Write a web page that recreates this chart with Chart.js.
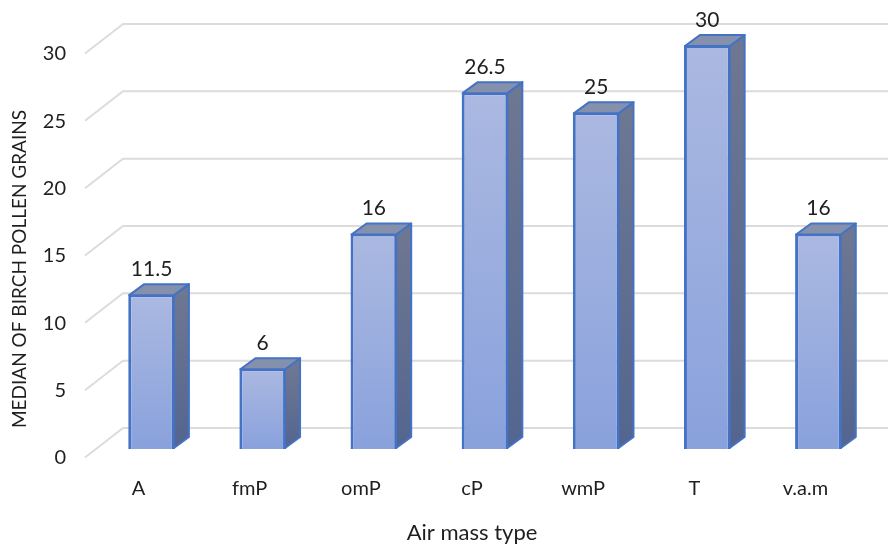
<!DOCTYPE html>
<html>
<head>
<meta charset="utf-8">
<style>
  html, body { margin: 0; padding: 0; background: #fff; }
  canvas { display: block; }
</style>
<script src="https://cdn.jsdelivr.net/npm/chart.js@4"></script>
</head>
<body>
<canvas id="chart" width="888" height="544"></canvas>
<script>
const categories = ['A', 'fmP', 'omP', 'cP', 'wmP', 'T', 'v.a.m'];
const medians = [11.5, 6, 16, 26.5, 25, 30, 16];
const yTicks = [0, 5, 10, 15, 20, 25, 30];
const xTitle = 'Air mass type';
const yTitle = 'MEDIAN OF BIRCH POLLEN GRAINS';

const FONT = 'Lato, "Open Sans", sans-serif';
const TEXT = '#1f1f1f';
const BLUE = '#4472c4';
const GRID = '#dcdcdc';

// fake 3D: offsets of the bar depth and the back wall, in pixels
const depthX = 15, depthY = 11;
const wallFrontX = 85, wallBackX = 123, wallRight = 888;
const wallFrontDy = 8.5, wallBackDy = -21;

function verticalGradient(ctx, top, bottom, from, to) {
    const g = ctx.createLinearGradient(0, top, 0, bottom);
    g.addColorStop(0, from);
    g.addColorStop(1, to);
    return g;
}

function face(ctx, points, fill) {
    ctx.beginPath();
    points.forEach((p, i) => i ? ctx.lineTo(p[0], p[1]) : ctx.moveTo(p[0], p[1]));
    ctx.closePath();
    ctx.fillStyle = fill;
    ctx.fill();
    ctx.strokeStyle = BLUE;
    ctx.lineWidth = 2;
    ctx.lineJoin = 'round';
    ctx.stroke();
}

const wallPlugin = {
    id: 'wall',
    beforeDatasetsDraw(chart) {
        const ctx = chart.ctx;
        const y = chart.scales.y;
        ctx.save();
        ctx.strokeStyle = GRID;
        ctx.lineWidth = 2;
        yTicks.forEach(t => {
            const py = y.getPixelForValue(t);
            ctx.beginPath();
            ctx.moveTo(wallFrontX, py + wallFrontDy);
            ctx.lineTo(wallBackX, py + wallBackDy);
            ctx.lineTo(wallRight, py + wallBackDy);
            ctx.stroke();
        });
        ctx.restore();
    }
};

const barDepthPlugin = {
    id: 'barDepth',
    afterDatasetsDraw(chart) {
        const ctx = chart.ctx;
        ctx.save();
        chart.getDatasetMeta(0).data.forEach((bar, i) => {
            const l = bar.x - bar.width / 2, r = bar.x + bar.width / 2;
            const top = bar.y, base = bar.base;
            face(ctx, [[r - 1, top + 1], [r + depthX - 1, top - depthY + 1], [r + depthX - 1, base - depthY - 1], [r - 1, base - 1]],
                verticalGradient(ctx, top, base, '#6e7792', '#53658f'));
            face(ctx, [[l + 1, top + 1], [l + depthX + 1, top - depthY + 1], [r + depthX - 1, top - depthY + 1], [r - 1, top + 1]], '#8490ac');
            ctx.fillStyle = TEXT;
            ctx.font = '21px ' + FONT;
            ctx.textAlign = 'center';
            ctx.textBaseline = 'middle';
            ctx.fillText(String(medians[i]), bar.x, top - 25);
        });
        ctx.restore();
    }
};

// the original titles sit off the plot centre, so they are placed by hand
const titlesPlugin = {
    id: 'titles',
    afterDraw(chart) {
        const ctx = chart.ctx;
        ctx.save();
        ctx.fillStyle = TEXT;
        ctx.textAlign = 'center';
        ctx.textBaseline = 'middle';
        ctx.font = '22px ' + FONT;
        ctx.fillText(xTitle, 472, 533);
        ctx.translate(20, 269);
        ctx.rotate(-Math.PI / 2);
        ctx.font = '19px ' + FONT;
        ctx.fillText(yTitle, 0, 0);
        ctx.restore();
    }
};

new Chart(document.getElementById('chart'), {
    type: 'bar',
    data: {
        labels: categories,
        datasets: [{
            data: medians,
            borderColor: BLUE,
            borderWidth: 3,
            backgroundColor: c => {
                const s = c.chart.scales.y;
                const top = s && c.parsed ? s.getPixelForValue(c.parsed.y) : NaN;
                if (!Number.isFinite(top)) return '#9aaede';
                return verticalGradient(c.chart.ctx, top, s.getPixelForValue(0), '#abb9e1', '#89a1dc');
            },
            categoryPercentage: 0.42,
            barPercentage: 1
        }]
    },
    plugins: [wallPlugin, barDepthPlugin, titlesPlugin],
    options: {
        responsive: false,
        animation: false,
        layout: { padding: { top: 45, right: 14, left: 8, bottom: 0 } },
        plugins: { legend: { display: false }, tooltip: { enabled: false } },
        scales: {
            x: {
                grid: { display: false },
                border: { display: false },
                afterFit: axis => { axis.height = 95; },
                ticks: { color: TEXT, font: { family: FONT, size: 20 }, padding: 20, maxRotation: 0, labelOffset: -13 }
            },
            y: {
                min: 0,
                max: 30,
                grid: { display: false },
                border: { display: false },
                afterBuildTicks: axis => { axis.ticks = yTicks.map(v => ({ value: v })); },
                afterFit: axis => { axis.width = 88; },
                ticks: { color: TEXT, font: { family: FONT, size: 20 }, padding: 22, labelOffset: 9 }
            }
        }
    }
});
</script>
</body>
</html>
